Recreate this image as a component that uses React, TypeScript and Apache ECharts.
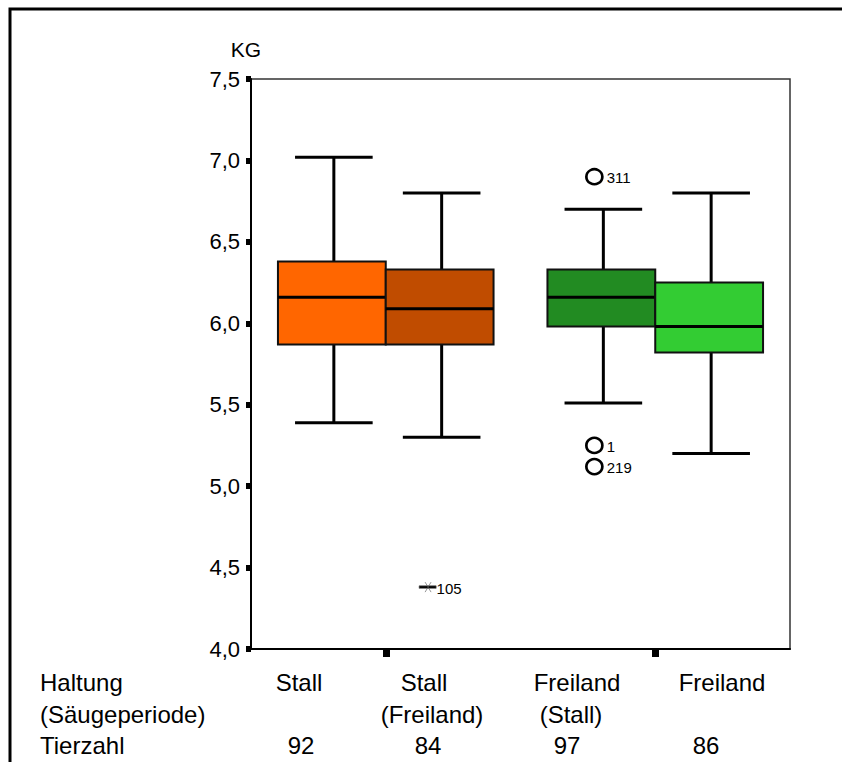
import React, { useEffect, useRef } from "react";
import * as echarts from "echarts";

// ---- data ----
const haltung = ["Stall", "Stall", "Freiland", "Freiland"];
const saeugeperiode = ["", "(Freiland)", "(Stall)", ""];
const tierzahl = [92, 84, 97, 86];
const boxLow = [5.39, 5.3, 5.51, 5.2];
const boxQ1 = [5.87, 5.87, 5.98, 5.82];
const boxMedian = [6.16, 6.09, 6.16, 5.98];
const boxQ3 = [6.38, 6.33, 6.33, 6.25];
const boxHigh = [7.02, 6.8, 6.7, 6.8];
const outlierBox = [2, 2, 2];
const outlierValue = [6.9, 5.25, 5.12];
const outlierId = ["311", "1", "219"];
const extremeBox = [1];
const extremeValue = [4.38];
const extremeId = ["105"];
const yTicks = [4.0, 4.5, 5.0, 5.5, 6.0, 6.5, 7.0, 7.5];

// ---- styles / layout ----
const boxColors = ["#FF6600", "#C04C00", "#228B22", "#33CC33"];
const FONT = "'Liberation Sans', Arial, Helvetica, sans-serif";
const BOX_HALF = 0.4;
const rowY = [682, 714, 745];
const row1X = [299, 424, 577, 722];
const row2X = [299, 432, 571, 722];
const row3X = [301, 428, 567, 706];

// group g (0/1) -> center at 2g+1, left box at -0.4, right box at +0.4
const boxX = (i: number) => 2 * Math.floor(i / 2) + 1 + (i % 2 === 0 ? -BOX_HALF : BOX_HALF);

export default function App() {
  const ref = useRef<HTMLDivElement>(null);
  useEffect(() => {
    if (!ref.current) return;
    const chart = echarts.init(ref.current, undefined, { renderer: "svg" });

    const boxData = haltung.map((_, i) => [i, boxLow[i], boxQ1[i], boxMedian[i], boxQ3[i], boxHigh[i]]);

    const texts: any[] = [];
    const addText = (text: string, x: number, y: number, align = "center") => {
      texts.push({
        type: "text",
        x,
        y,
        style: {
          text,
          fill: "#000",
          font: `24px ${FONT}`,
          textAlign: align,
          textVerticalAlign: "middle",
        },
      });
    };
    addText("Haltung", 40, rowY[0], "left");
    addText("(Säugeperiode)", 40, rowY[1], "left");
    addText("Tierzahl", 40, rowY[2], "left");
    haltung.forEach((t, i) => addText(t, row1X[i], rowY[0]));
    saeugeperiode.forEach((t, i) => t && addText(t, row2X[i], rowY[1]));
    tierzahl.forEach((t, i) => addText(String(t), row3X[i], rowY[2]));

    const option: any = {
      animation: false,
      grid: {
        left: 251,
        top: 79,
        right: 52,
        bottom: 113,
        show: true,
        borderColor: "#333",
        borderWidth: 1.5,
        backgroundColor: "transparent",
      },
      xAxis: {
        type: "value",
        min: 0,
        max: 4,
        axisLine: { show: true, onZero: false, lineStyle: { color: "#000", width: 2 } },
        axisTick: { show: true, customValues: [1, 3], length: 8, lineStyle: { color: "#000", width: 7 } },
        axisLabel: { show: false },
        splitLine: { show: false },
      },
      yAxis: {
        type: "value",
        min: 4,
        max: 7.5,
        interval: 0.5,
        name: "KG",
        nameLocation: "end",
        nameGap: 19,
        nameTextStyle: { fontSize: 21, color: "#000", fontFamily: FONT, padding: [0, 10, 0, 0] },
        axisLine: { show: true, onZero: false, lineStyle: { color: "#000", width: 2 } },
        axisTick: { show: true, length: 5, lineStyle: { color: "#000", width: 6 } },
        axisLabel: {
          color: "#000",
          fontSize: 22,
          fontFamily: FONT,
          margin: 11,
          customValues: yTicks,
          formatter: (v: number) => v.toFixed(1).replace(".", ","),
        },
        splitLine: { show: false },
      },
      series: [
        {
          type: "custom",
          data: boxData,
          encode: { x: 0, y: [1, 2, 3, 4, 5] },
          renderItem: (params: any, api: any) => {
            const i = api.value(0);
            const cx = boxX(i);
            const pl = api.coord([cx - BOX_HALF, api.value(4)]);
            const pr = api.coord([cx + BOX_HALF, api.value(2)]);
            const pHigh = api.coord([cx, api.value(5)]);
            const pLow = api.coord([cx, api.value(1)]);
            const pMed = api.coord([cx, api.value(3)]);
            const xc = pHigh[0] + 2;
            const capHalf = (pr[0] - pl[0]) * 0.36;
            const lineStyle = { stroke: "#000", lineWidth: 3 };
            return {
              type: "group",
              children: [
                { type: "line", shape: { x1: xc, y1: pHigh[1], x2: xc, y2: pl[1] }, style: lineStyle },
                { type: "line", shape: { x1: xc, y1: pr[1], x2: xc, y2: pLow[1] }, style: lineStyle },
                { type: "line", shape: { x1: xc - capHalf, y1: pHigh[1], x2: xc + capHalf, y2: pHigh[1] }, style: lineStyle },
                { type: "line", shape: { x1: xc - capHalf, y1: pLow[1], x2: xc + capHalf, y2: pLow[1] }, style: lineStyle },
                {
                  type: "rect",
                  shape: { x: pl[0], y: pl[1], width: pr[0] - pl[0], height: pr[1] - pl[1] },
                  style: { fill: boxColors[i], stroke: "#111", lineWidth: 2 },
                },
                { type: "line", shape: { x1: pl[0], y1: pMed[1], x2: pr[0], y2: pMed[1] }, style: lineStyle },
              ],
            };
          },
          z: 2,
        },
        {
          type: "scatter",
          data: outlierValue.map((v, k) => ({ value: [boxX(outlierBox[k]), v], name: outlierId[k] })),
          symbol: "circle",
          symbolSize: [16, 15],
          symbolOffset: [-7, 0],
          itemStyle: { color: "#fff", borderColor: "#000", borderWidth: 2.6, opacity: 1 },
          label: {
            show: true,
            position: "right",
            distance: 3,
            offset: [0, 1],
            formatter: (p: any) => p.name,
            color: "#000",
            fontSize: 15,
            fontFamily: FONT,
          },
          z: 3,
        },
        {
          type: "scatter",
          data: extremeValue.map((v, k) => ({ value: [boxX(extremeBox[k]), v], name: extremeId[k] })),
          symbol: "path://M0,4 L20,4 L20,6 L0,6 Z M7,1 L14,9 M7,9 L14,1",
          symbolSize: [17, 10],
          symbolOffset: [-12, 0],
          itemStyle: { color: "#000", borderColor: "#555", borderWidth: 0.6, opacity: 1 },
          label: {
            show: true,
            position: "right",
            distance: 0,
            offset: [0, 1],
            formatter: (p: any) => p.name,
            color: "#000",
            fontSize: 15,
            fontFamily: FONT,
          },
          z: 3,
        },
      ],
      graphic: [
        {
          type: "polyline",
          shape: { points: [[10, 762], [10, 9], [842, 9]] },
          style: { stroke: "#000", lineWidth: 3, fill: "none" },
        },
        ...texts,
      ],
    };
    chart.setOption(option);
    return () => chart.dispose();
  }, []);
  return (
    <div
      ref={ref}
      style={{ position: "fixed", left: 0, top: 0, width: 842, height: 762, background: "#fff" }}
    />
  );
}
